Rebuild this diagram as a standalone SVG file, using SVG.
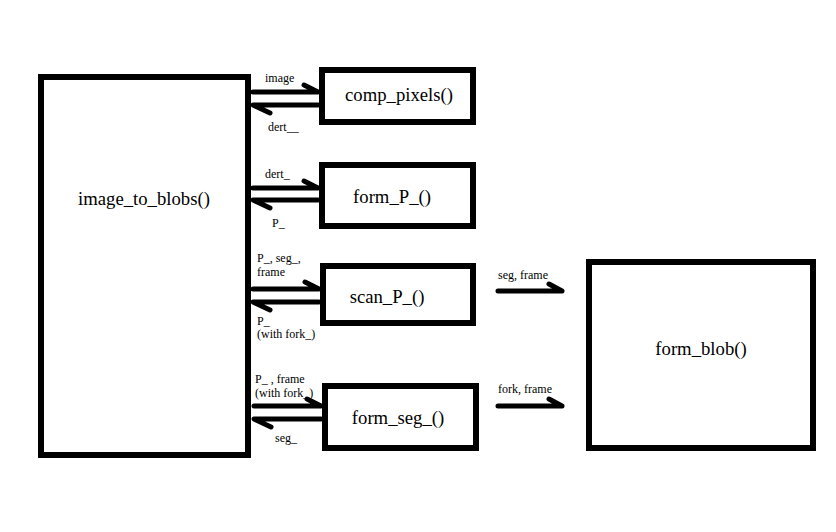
<svg xmlns="http://www.w3.org/2000/svg" width="836" height="532" viewBox="0 0 836 532">
  <style>
    .box { fill: #fff; stroke: #000; stroke-width: 6; }
    .name { font-family: "Liberation Serif", "Times New Roman", serif; font-size: 18.7px; fill: #000; text-anchor: middle; }
    .lbl { font-family: "Liberation Serif", "Times New Roman", serif; font-size: 12px; fill: #000; }
    .arrow { fill: none; stroke: #000; stroke-width: 5; stroke-linecap: round; stroke-linejoin: round; }
  </style>
  <rect width="836" height="532" fill="#fff"/>

  <g id="image_to_blobs">
    <rect class="box" x="41" y="77" width="207" height="378"/>
    <text class="name" x="144" y="205">image_to_blobs()</text>
  </g>

  <g id="comp_pixels">
    <rect class="box" x="322" y="70" width="151" height="52"/>
    <text class="name" x="399" y="101">comp_pixels()</text>
  </g>

  <g id="form_P_">
    <rect class="box" x="322" y="165" width="151" height="61"/>
    <text class="name" x="392" y="203">form_P_()</text>
  </g>

  <g id="scan_P_">
    <rect class="box" x="323" y="266" width="150" height="57"/>
    <text class="name" x="387" y="303">scan_P_()</text>
  </g>

  <g id="form_seg_">
    <rect class="box" x="325" y="386" width="151" height="62"/>
    <text class="name" x="398" y="424">form_seg_()</text>
  </g>

  <g id="form_blob">
    <rect class="box" x="589" y="262" width="224" height="186"/>
    <text class="name" x="701" y="355">form_blob()</text>
  </g>

  <g id="connectors">
    <!-- image_to_blobs <-> comp_pixels -->
    <path class="arrow" d="M253 92 H318 M304 85 L318 92"/>
    <path class="arrow" d="M318 105 H253 L270 113"/>
    <text class="lbl" x="265" y="82">image</text>
    <text class="lbl" x="268" y="131">dert__</text>

    <!-- image_to_blobs <-> form_P_ -->
    <path class="arrow" d="M253 188 H318 M304 181 L318 188"/>
    <path class="arrow" d="M318 200 H253 L270 208"/>
    <text class="lbl" x="265" y="178">dert_</text>
    <text class="lbl" x="272" y="227">P_</text>

    <!-- image_to_blobs <-> scan_P_ -->
    <path class="arrow" d="M253 289 H319 M305 282 L319 289"/>
    <path class="arrow" d="M319 302 H253 L270 310"/>
    <text class="lbl" x="257" y="262">P_, seg_,</text>
    <text class="lbl" x="257" y="276">frame</text>
    <text class="lbl" x="257" y="325">P_</text>
    <text class="lbl" x="257" y="338">(with fork_)</text>

    <!-- image_to_blobs <-> form_seg_ -->
    <path class="arrow" d="M254 406 H321 M307 399 L321 406"/>
    <path class="arrow" d="M321 419 H254 L271 427"/>
    <text class="lbl" x="255" y="383">P_ , frame</text>
    <text class="lbl" x="255" y="397">(with fork_)</text>
    <text class="lbl" x="275" y="442">seg_</text>

    <!-- scan_P_ / form_seg_ -> form_blob -->
    <path class="arrow" d="M498 291 H562 M549 284 L562 291"/>
    <text class="lbl" x="498" y="279">seg, frame</text>
    <path class="arrow" d="M498 406 H562 M549 399 L562 406"/>
    <text class="lbl" x="498" y="393">fork, frame</text>
  </g>
</svg>
